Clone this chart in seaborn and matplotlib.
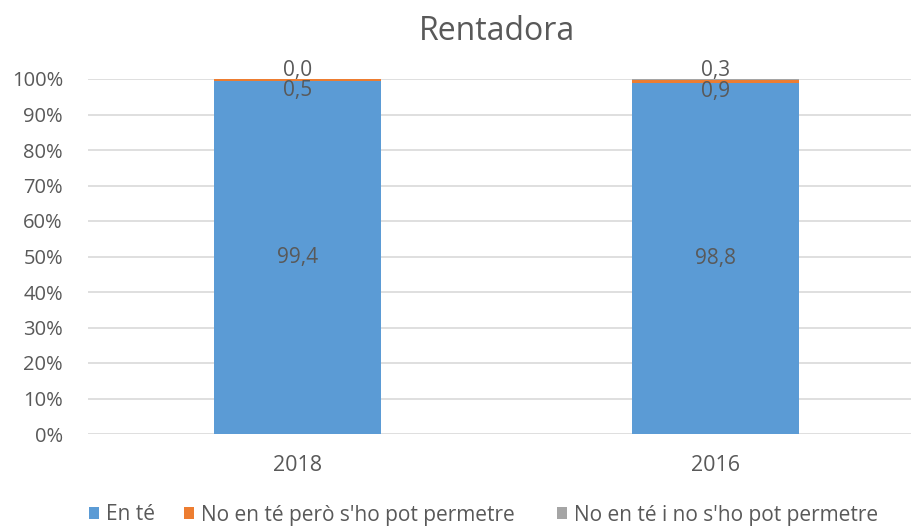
import matplotlib
matplotlib.use("Agg")
import matplotlib.pyplot as plt
import seaborn as sns
import pandas as pd
from matplotlib.patches import Patch

categories = ["2018", "2016"]
en_te = [99.4, 98.8]
no_pot_permetre = [0.5, 0.9]
no_no_pot = [0.0, 0.3]
series_names = ["En té", "No en té però s'ho pot permetre", "No en té i no s'ho pot permetre"]
colors = ["#5B9BD5", "#ED7D31", "#A5A5A5"]
yticks = [0, 10, 20, 30, 40, 50, 60, 70, 80, 90, 100]

sns.set_theme(style="white")
plt.rcParams['font.family'] = ['Open Sans', 'DejaVu Sans']
txt = "#595959"

fig = plt.figure(figsize=(9.12, 5.28), dpi=100)
ax = fig.add_axes([88/912, 1-434/528, 1-88/912, (434-79)/528])

df = pd.DataFrame({"cat": categories, "a": en_te, "b": no_pot_permetre, "c": no_no_pot})
tot = df["a"] + df["b"] + df["c"]
fa = df["a"] / tot
fb = df["b"] / tot
fc = df["c"] / tot

sns.barplot(x=df["cat"], y=fa, order=categories, color=colors[0], width=0.4, ax=ax, saturation=1)
sns.barplot(x=df["cat"], y=fb, bottom=fa, order=categories, color=colors[1], width=0.4, ax=ax, saturation=1)
sns.barplot(x=df["cat"], y=fc, bottom=fa + fb, order=categories, color=colors[2], width=0.4, ax=ax, saturation=1)
for p in ax.patches:
    p.set_edgecolor("none")

ax.set_ylim(0, 1)
ax.set_xlim(-0.5, 1.469)
ax.set_yticks([v / 100 for v in yticks])
ax.set_yticklabels([f"{v}%" for v in yticks])
ax.yaxis.grid(True, color="#D9D9D9", linewidth=1.2)
ax.set_axisbelow(True)
for s in ax.spines.values():
    s.set_visible(False)
ax.tick_params(axis="y", colors=txt, labelsize=14.5, length=0, pad=18)
ax.tick_params(axis="x", colors=txt, labelsize=15.5, length=0, pad=15)
ax.set_xlabel("")
ax.set_ylabel("")

def fmt(v):
    return f"{v:.1f}".replace(".", ",")

for i in range(len(categories)):
    ax.text(i, fa[i] / 2, fmt(en_te[i]), ha="center", va="center", color=txt, fontsize=15)
    ax.annotate(fmt(no_pot_permetre[i]), (i, fa[i] + fb[i]), xytext=(0, -8), textcoords="offset points",
                ha="center", va="center", color=txt, fontsize=15)
    ax.annotate(fmt(no_no_pot[i]), (i, 1.0), xytext=(0, 6), textcoords="offset points",
                ha="center", va="center", color=txt, fontsize=15)

fig.text(497/912, 1 - 31/528, "Rentadora", ha="center", va="center", color=txt, fontsize=23)

legend_x = [89, 184, 557]
for name, c, lx in zip(series_names, colors, legend_x):
    fig.legend([Patch(facecolor=c, edgecolor="none")], [name], loc="center left",
               bbox_to_anchor=(lx/912, 1 - 515/528), frameon=False, fontsize=15,
               labelcolor=txt, handlelength=0.5, handleheight=0.5, handletextpad=0.3,
               borderpad=0, borderaxespad=0)

fig.savefig("out.png", dpi=100)
